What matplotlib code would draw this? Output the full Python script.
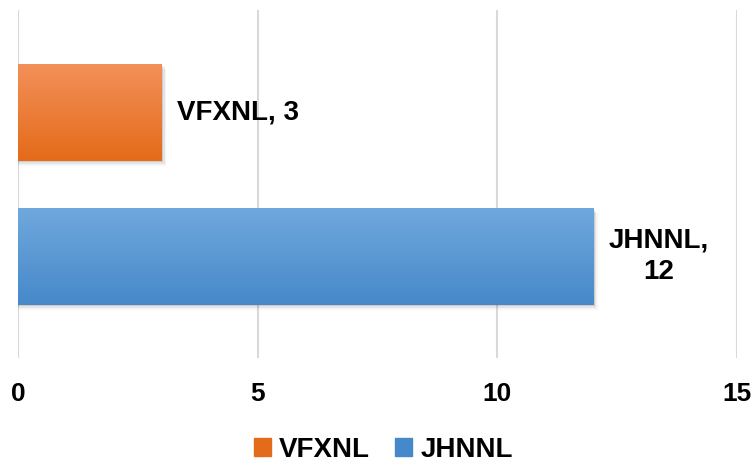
import numpy as np
import matplotlib.pyplot as plt
import matplotlib.colors as mcolors

# data
categories = ["JHNNL", "VFXNL"]
values = [12, 3]
labels = ["JHNNL,\n12", "VFXNL, 3"]
bar_top = ["#70A8DD", "#F39059"]
bar_bot = ["#4689CA", "#E46B19"]
legend_order = ["VFXNL", "JHNNL"]
x_ticks = [0, 5, 10, 15]

plt.rcParams['font.family'] = ['Liberation Sans', 'DejaVu Sans']

fig = plt.figure(figsize=(7.55, 4.62), dpi=100)
ax = fig.add_axes([18 / 755, 1 - 358 / 462, (737 - 18) / 755, (358 - 10) / 462])

ypos = np.arange(len(categories))
bars = ax.barh(ypos, values, height=0.67, color=bar_bot, zorder=3)

# gradient fill + soft shadow for each bar
for b, top, bot in zip(bars, bar_top, bar_bot):
    x0, y0 = b.get_x(), b.get_y()
    w, h = b.get_width(), b.get_height()
    cmap = mcolors.LinearSegmentedColormap.from_list("g", [bot, top])
    grad = np.linspace(0, 1, 100).reshape(-1, 1)
    im = ax.imshow(grad, cmap=cmap, aspect='auto', origin='lower',
                   extent=[x0, x0 + w, y0, y0 + h], zorder=4)
    im.set_clip_path(b)
    for i, a in enumerate([0.10, 0.07, 0.04]):
        ax.barh(b.get_y() + h / 2 - 0.012 * (i + 1), w + 0.03 * (i + 1), height=h,
                left=x0, color='black', alpha=a, zorder=2, linewidth=0)

for b, lab in zip(bars, labels):
    ax.annotate(lab, (b.get_width(), b.get_y() + b.get_height() / 2),
                xytext=(11, 0), textcoords='offset points', ha='left', va='center',
                multialignment='center', fontsize=20, fontweight='bold', zorder=5,
                linespacing=1.3)

ax.set_xlim(0, 15)
ax.set_ylim(-0.705, 1.71)
ax.set_xticks(x_ticks)
ax.set_xticklabels([str(t) for t in x_ticks], fontsize=19, fontweight='bold')
ax.tick_params(axis='x', length=0, pad=17)
ax.set_yticks([])
ax.grid(axis='x', color='#D9D9D9', linewidth=1.5, zorder=0)
for s in ax.spines.values():
    s.set_visible(False)

handles = [plt.Rectangle((0, 0), 1, 1, color=bar_bot[categories.index(n)]) for n in legend_order]
fig.legend(handles, legend_order, loc='center', bbox_to_anchor=(0.508, 1 - 450 / 462),
           ncol=2, frameon=False, handlelength=0.6, handleheight=0.6,
           handletextpad=0.3, columnspacing=0.9,
           prop={'size': 20, 'weight': 'bold'})

fig.savefig("out.png", dpi=100)
